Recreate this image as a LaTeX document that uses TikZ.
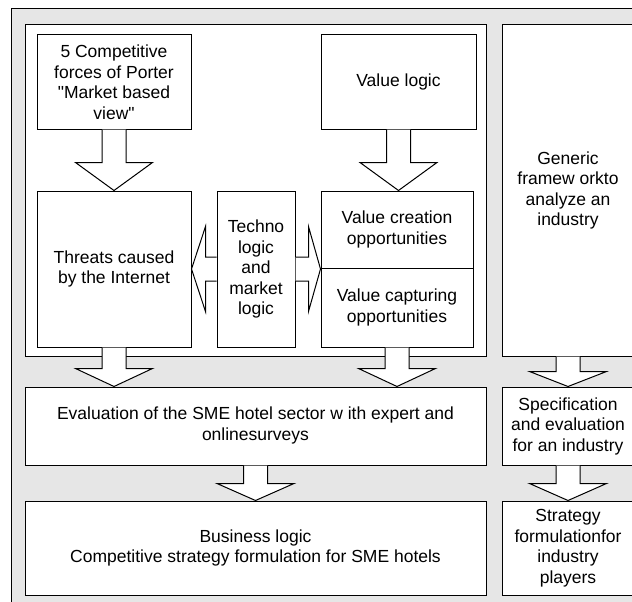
\documentclass[tikz,border=0pt]{standalone}
\usepackage{fontspec}
\setmainfont{Liberation Sans}[Ligatures=TeXOff]
\usetikzlibrary{calc}
\definecolor{bggray}{RGB}{230,230,230}
\tikzset{
  box/.style={draw, line width=1pt, fill=white, align=center, inner sep=0pt,
    font=\fontsize{17.5}{20.5}\selectfont},
  blockarrow/.style={draw, line width=1pt, fill=white, line join=miter},
}
\newcommand{\blkdown}[3]{%
  \path[blockarrow] let \p1=(#1), \p2=(#2) in
   (\x1-12pt,\y1) -- (\x1-12pt,\y2+#3) -- (\x1-38.5pt,\y2+#3) -- (\x1,\y2)
   -- (\x1+38.5pt,\y2+#3) -- (\x1+12pt,\y2+#3) -- (\x1+12pt,\y1);}
\newcommand{\blkleft}[3]{%
  \path[blockarrow] let \p1=(#1), \p2=(#2) in
   (\x1,\y1+12pt) -- (\x2+#3,\y1+12pt) -- (\x2+#3,\y1+42.5pt) -- (\x2,\y1)
   -- (\x2+#3,\y1-42.5pt) -- (\x2+#3,\y1-12pt) -- (\x1,\y1-12pt);}
\newcommand{\blkright}[3]{%
  \path[blockarrow] let \p1=(#1), \p2=(#2) in
   (\x1,\y1+12pt) -- (\x2-#3,\y1+12pt) -- (\x2-#3,\y1+42.5pt) -- (\x2,\y1)
   -- (\x2-#3,\y1-42.5pt) -- (\x2-#3,\y1-12pt) -- (\x1,\y1-12pt);}
\begin{document}
\begin{tikzpicture}[x=1pt,y=-1pt]
\useasboundingbox (0,0) rectangle (632,602);
\clip (0,0) rectangle (632,602);
\draw[line width=1pt, fill=bggray] (11,9) rectangle (660,630);
% inner frame
\node[box, minimum width=461, minimum height=331] (inner) at (255.5,190.5) {};
% boxes
\node[box, minimum width=154, minimum height=94] (p5) at (114,82)
  {5 Competitive\\forces of Porter\\"Market based\\view"};
\node[box, minimum width=154, minimum height=156] (threats) at (114,269)
  {Threats caused\\by the Internet};
\node[box, minimum width=78, minimum height=156] (techno) at (256,269)
  {Techno\\logic\\and\\market\\logic};
\node[box, minimum width=155, minimum height=94] (vlogic) at (398.5,82) {Value logic};
\node[box, minimum width=152, minimum height=77] (vcreate) at (397,229.5)
  {Value creation\\opportunities};
\node[box, minimum width=152, minimum height=79] (vcapture) at (397,307.5)
  {Value capturing\\opportunities};
\node[box, minimum width=132, minimum height=331] (generic) at (568,190.5)
  {Generic\\framew orkto\\analyze an\\industry};
\node[box, minimum width=461, minimum height=78] (eval) at (255.5,426)
  {\begin{tabular}{@{}c@{}}Evaluation of the SME hotel sector w ith expert and\\onlinesurveys\end{tabular}};
\node[box, minimum width=132, minimum height=78] (spec) at (568,426)
  {Specification\\and evaluation\\for an industry};
\node[box, minimum width=461, minimum height=94] (business) at (255.5,548)
  {Business logic\\Competitive strategy formulation for SME hotels};
\node[box, minimum width=132, minimum height=94] (strategy) at (568,548)
  {Strategy\\formulationfor\\industry\\players};
% block arrows
\blkdown{p5.south}{p5.south |- threats.north}{28pt}
\blkdown{vlogic.south}{vlogic.south |- vcreate.north}{28pt}
\blkdown{threats.south}{threats.south |- eval.north}{18pt}
\blkdown{vcapture.south}{vcapture.south |- eval.north}{18pt}
\blkdown{generic.south}{generic.south |- spec.north}{15pt}
\blkdown{eval.south}{eval.south |- business.north}{17pt}
\blkdown{spec.south}{spec.south |- strategy.north}{17pt}
\blkleft{techno.west}{techno.west -| threats.east}{14pt}
\blkright{techno.east}{techno.east -| vcreate.west}{12pt}
\end{tikzpicture}
\end{document}
